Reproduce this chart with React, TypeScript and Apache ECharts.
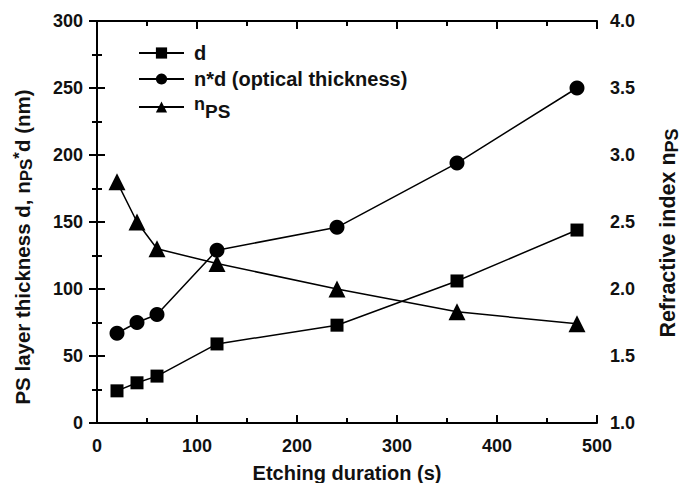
import React, { useEffect, useRef } from "react";
import * as echarts from "echarts";

const etchTimes = [20, 40, 60, 120, 240, 360, 480];
const thicknessD = [24, 30, 35, 59, 73, 106, 144];
const opticalThickness = [67, 75, 81, 129, 146, 194, 250];
const refractiveIndex = [2.8, 2.5, 2.3, 2.19, 2.0, 1.83, 1.74];
const legendNames = ["d", "n*d (optical thickness)", "nPS"];

const FONT = "Liberation Sans, Arial, sans-serif";

export default function App() {
  const ref = useRef<HTMLDivElement>(null);
  useEffect(() => {
    document.body.style.margin = "0";
    if (!ref.current) return;
    const chart = echarts.init(ref.current, undefined, { renderer: "svg" });
    const axisCommon = {
      axisLine: { show: true, lineStyle: { color: "#000", width: 2 } },
      axisTick: { show: true, inside: true, length: 8, lineStyle: { color: "#000", width: 2 } },
      minorTick: { show: true, splitNumber: 2, length: 5, lineStyle: { color: "#000", width: 2 } },
      splitLine: { show: false },
      axisLabel: { color: "#111", fontSize: 18, fontWeight: "bold", fontFamily: FONT },
    };
    const mkRich = (main: number, small: number) => ({
      n: { fontSize: main, fontWeight: "bold", fontFamily: FONT, color: "#111" },
      sub: { fontSize: small, fontWeight: "bold", fontFamily: FONT, color: "#111", padding: [8, 0, 0, 0] },
      sup: { fontSize: small, fontWeight: "bold", fontFamily: FONT, color: "#111", padding: [0, 0, 6, 0] },
    });
    const nameStyle = (pad: number, main: number, small: number) => ({
      color: "#111",
      fontSize: main,
      fontWeight: "bold",
      fontFamily: FONT,
      padding: [0, pad, 0, 0],
      rich: mkRich(main, small),
    });
    const mk = (name: string, data: number[], symbol: string, size: number, yAxisIndex = 0) => ({
      name,
      type: "line",
      yAxisIndex,
      data: etchTimes.map((t, i) => [t, data[i]]),
      symbol,
      symbolSize: size,
      lineStyle: { color: "#000", width: 1.5 },
      itemStyle: { color: "#000" },
    });
    chart.setOption({
      animation: false,
      grid: { left: 97, right: 87, top: 21, bottom: 60, outerBoundsMode: "none", containLabel: false },
      legend: {
        orient: "vertical",
        left: 133,
        top: 38,
        itemWidth: 45,
        itemHeight: 14,
        itemGap: 6,
        data: legendNames,
        textStyle: {
          color: "#111",
          fontSize: 20,
          fontWeight: "bold",
          fontFamily: FONT,
          padding: [0, 0, 0, 5],
          rich: {
            n: { fontSize: 18, fontWeight: "bold", fontFamily: FONT, color: "#111", padding: [0, 0, 6, 0] },
            sub: { fontSize: 19, fontWeight: "bold", fontFamily: FONT, color: "#111", padding: [8, 0, 0, 0] },
          },
        },
        formatter: (name: string) => (name === "nPS" ? "{n|n}{sub|PS}" : name),
      },
      xAxis: [
        {
          type: "value",
          min: 0,
          max: 500,
          interval: 100,
          name: "Etching duration (s)",
          nameLocation: "middle",
          nameGap: 40,
          nameTextStyle: { color: "#111", fontSize: 20, fontWeight: "bold", fontFamily: FONT },
          ...axisCommon,
          axisLabel: { ...axisCommon.axisLabel, margin: 14 },
        },
        {
          type: "value",
          position: "top",
          min: 0,
          max: 500,
          interval: 100,
          ...axisCommon,
          axisLabel: { show: false },
        },
      ],
      yAxis: [
        {
          type: "value",
          min: 0,
          max: 300,
          interval: 50,
          name: "{n|PS layer thickness d, n}{sub|PS}{sup|*}{n|d (nm)}",
          nameLocation: "middle",
          nameRotate: 90,
          nameGap: 62,
          nameTextStyle: nameStyle(50, 20.5, 17),
          ...axisCommon,
          axisLabel: { ...axisCommon.axisLabel, margin: 14 },
        },
        {
          type: "value",
          min: 1,
          max: 4,
          interval: 0.5,
          name: "{n|Refractive index n}{sub|PS}",
          nameLocation: "middle",
          nameRotate: 90,
          nameGap: 58,
          nameTextStyle: nameStyle(22, 21.5, 18),
          ...axisCommon,
          axisLabel: { ...axisCommon.axisLabel, margin: 13, formatter: (v: number) => v.toFixed(1) },
        },
      ],
      series: [
        mk("d", thicknessD, "rect", 13),
        mk("n*d (optical thickness)", opticalThickness, "circle", 15),
        mk("nPS", refractiveIndex, "triangle", 17, 1),
      ],
    });
    return () => chart.dispose();
  }, []);
  return <div ref={ref} style={{ width: 684, height: 483, background: "#fff" }} />;
}
